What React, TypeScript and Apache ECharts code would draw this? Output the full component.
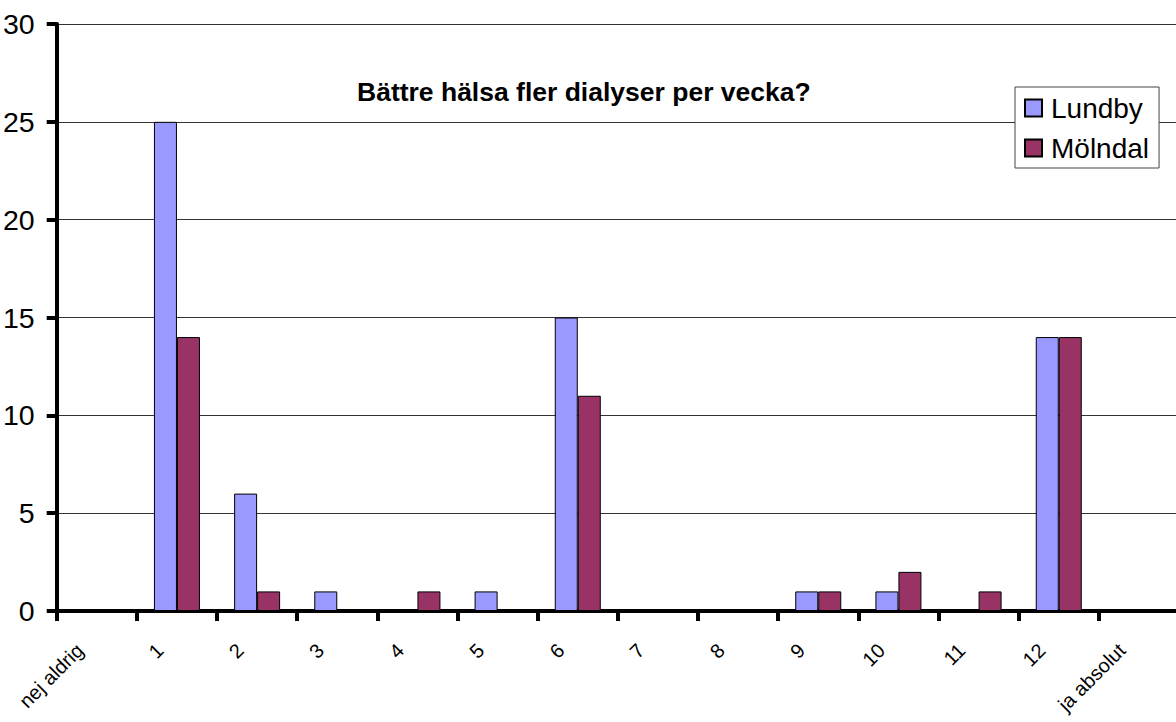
import React, { useEffect, useRef } from "react";
import * as echarts from "echarts";

const categories = ["nej aldrig", "1", "2", "3", "4", "5", "6", "7", "8", "9", "10", "11", "12", "ja absolut"];
const lundby = [0, 25, 6, 1, 0, 1, 15, 0, 0, 1, 1, 0, 14, 0];
const molndal = [0, 14, 1, 0, 1, 0, 11, 0, 0, 1, 2, 1, 14, 0];
const titleText = "Bättre hälsa fler dialyser per vecka?";
const seriesNames = ["Lundby", "Mölndal"];

const FONT = "'Liberation Sans', Arial, sans-serif";

export default function App() {
  const ref = useRef<HTMLDivElement>(null);
  useEffect(() => {
    if (!ref.current) return;
    const chart = echarts.init(ref.current, null, { renderer: "svg" });
    chart.setOption({
      animation: false,
      backgroundColor: "#fff",
      textStyle: { fontFamily: FONT },
      title: {
        text: titleText,
        left: 357,
        top: 78,
        padding: 0,
        textStyle: { fontSize: 26.5, fontWeight: "bold", color: "#000", fontFamily: FONT },
      },
      legend: {
        orient: "vertical",
        left: 1015,
        top: 87,
        padding: [7, 10, 6, 9],
        itemGap: 12,
        itemWidth: 17,
        itemHeight: 17,
        borderColor: "#444",
        borderWidth: 1,
        backgroundColor: "#fff",
        icon: "rect",
        textStyle: { fontSize: 28, color: "#000", fontFamily: FONT, padding: [0, 0, 0, 4] },
        data: seriesNames,
      },
      grid: { left: 55, right: 1, top: 24, bottom: 111, containLabel: false },
      xAxis: {
        type: "category",
        data: categories,
        axisLine: { show: true, lineStyle: { color: "#000", width: 4 } },
        axisTick: { show: true, length: 10, lineStyle: { color: "#000", width: 4 } },
        axisLabel: {
          rotate: 45,
          margin: 19,
          padding: [0, 24, 0, 0],
          fontSize: 20,
          color: "#000",
          fontFamily: FONT,
          interval: 0,
        },
        splitLine: { show: false },
      },
      yAxis: {
        type: "value",
        min: 0,
        max: 30,
        interval: 5,
        axisLine: { show: true, lineStyle: { color: "#000", width: 4 } },
        axisTick: { show: true, length: 10, lineStyle: { color: "#000", width: 4 } },
        axisLabel: { fontSize: 28.5, color: "#000", margin: 22, fontFamily: FONT },
        splitLine: { show: true, lineStyle: { color: "#333", width: 1 } },
      },
      series: [
        {
          name: seriesNames[0],
          type: "bar",
          data: lundby,
          barWidth: 23,
          barGap: "0%",
          itemStyle: { color: "#9999FF", borderColor: "#000", borderWidth: 1 },
        },
        {
          name: seriesNames[1],
          type: "bar",
          data: molndal,
          barWidth: 23,
          barGap: "0%",
          itemStyle: { color: "#993366", borderColor: "#000", borderWidth: 1 },
        },
      ],
    });
    return () => chart.dispose();
  }, []);
  return (
    <div
      ref={ref}
      style={{ position: "fixed", left: 0, top: 0, width: 1180, height: 722 }}
    />
  );
}
